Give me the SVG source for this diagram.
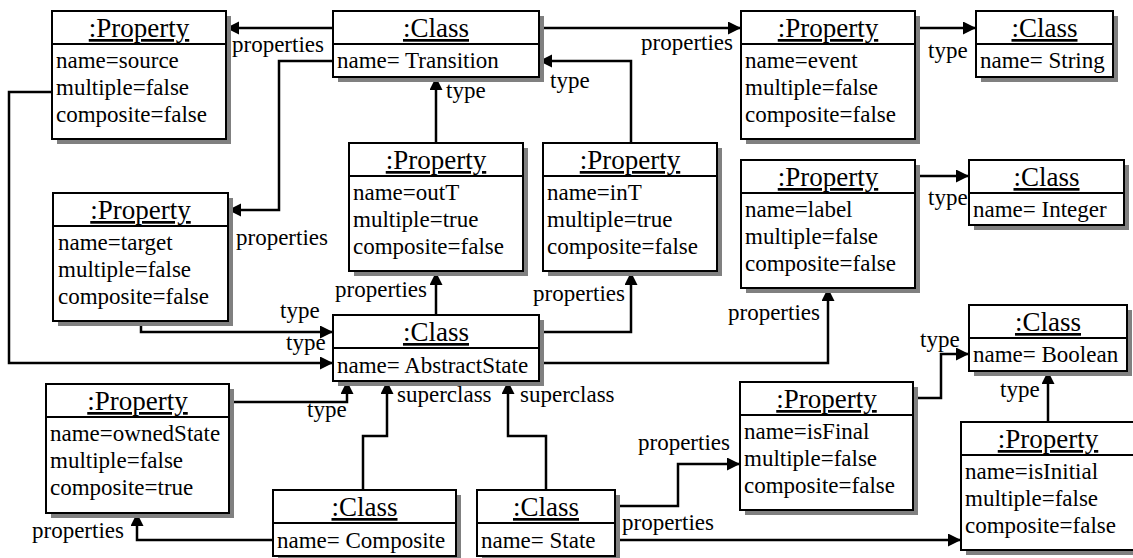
<svg xmlns="http://www.w3.org/2000/svg" width="1133" height="558" viewBox="0 0 1133 558">
<defs>
<marker id="ah" markerUnits="userSpaceOnUse" markerWidth="14" markerHeight="14" refX="13" refY="6.5" orient="auto">
<path d="M0,0 L13,6.5 L0,13 z" fill="#000"/>
</marker>
<style>
text{font-family:'Liberation Serif','Tinos','DejaVu Serif',serif;fill:#000}
.sh{fill:#808080}
.bx{fill:#fff;stroke:#000;stroke-width:2}
.dv{stroke:#000;stroke-width:2}
.t{font-size:27px;text-anchor:middle;text-decoration:underline}
.b{font-size:23px}
.l{font-size:23px}
.e{text-anchor:end}
.c{fill:none;stroke:#000;stroke-width:2.5;marker-end:url(#ah)}
</style>
</defs>
<rect width="1133" height="558" fill="#fff"/>

<g id="connectors" font-family="Liberation Serif, serif">
<polyline class="c" points="333,28 226,28"/>
<polyline class="c" points="333,61 279,61 279,210 228,210"/>
<polyline class="c" points="539,28 741,28"/>
<polyline class="c" points="915,28 976,28"/>
<polyline class="c" points="436,143 436,77"/>
<polyline class="c" points="631,143 631,61 539,61"/>
<polyline class="c" points="52,92 9,92 9,363 333,363"/>
<polyline class="c" points="141,322 141,332 333,332"/>
<polyline class="c" points="436,315 436,272"/>
<polyline class="c" points="539,332 631,332 631,272"/>
<polyline class="c" points="539,363 828,363 828,288"/>
<polyline class="c" points="915,176 969,176"/>
<polyline class="c" points="229,402 347,402 347,381"/>
<polyline class="c" points="363,490 363,436 387,436 387,381"/>
<polyline class="c" points="546,490 546,436 508,436 508,381"/>
<polyline class="c" points="273,540 137,540 137,513"/>
<polyline class="c" points="615,506 678,506 678,464 740,464"/>
<polyline class="c" points="615,540 961,540"/>
<polyline class="c" points="913,398 941,398 941,354 969,354"/>
<polyline class="c" points="1048,422 1048,371"/>
<text class="l" x="232" y="52">properties</text>
<text class="l" x="236" y="245">properties</text>
<text class="l e" x="733" y="50">properties</text>
<text class="l" x="928" y="58">type</text>
<text class="l" x="446" y="98">type</text>
<text class="l" x="550" y="88">type</text>
<text class="l" x="286" y="350">type</text>
<text class="l" x="280" y="318">type</text>
<text class="l e" x="427" y="297">properties</text>
<text class="l" x="533" y="301">properties</text>
<text class="l" x="728" y="320">properties</text>
<text class="l" x="928" y="205">type</text>
<text class="l" x="307" y="417">type</text>
<text class="l" x="397" y="402">superclass</text>
<text class="l" x="520" y="402">superclass</text>
<text class="l" x="32" y="538">properties</text>
<text class="l" x="638" y="450">properties</text>
<text class="l" x="622" y="530">properties</text>
<text class="l" x="920" y="347">type</text>
<text class="l" x="1000" y="397">type</text>
</g>

<g id="p-source">
<rect class="sh" x="57" y="16" width="174" height="128"/>
<rect class="bx" x="52" y="11" width="174" height="128"/>
<line class="dv" x1="52" y1="44" x2="226" y2="44"/>
<text class="t" x="139" y="37">:Property</text>
<text class="b" x="56" y="68">name=source</text>
<text class="b" x="56" y="95">multiple=false</text>
<text class="b" x="56" y="122">composite=false</text>
</g>

<g id="c-transition">
<rect class="sh" x="338" y="16" width="206" height="66"/>
<rect class="bx" x="333" y="11" width="206" height="66"/>
<line class="dv" x1="333" y1="44" x2="539" y2="44"/>
<text class="t" x="436" y="37">:Class</text>
<text class="b" x="337" y="68">name= Transition</text>
</g>

<g id="p-event">
<rect class="sh" x="746" y="16" width="174" height="128"/>
<rect class="bx" x="741" y="11" width="174" height="128"/>
<line class="dv" x1="741" y1="44" x2="915" y2="44"/>
<text class="t" x="828" y="37">:Property</text>
<text class="b" x="745" y="68">name=event</text>
<text class="b" x="745" y="95">multiple=false</text>
<text class="b" x="745" y="122">composite=false</text>
</g>

<g id="c-string">
<rect class="sh" x="981" y="16" width="137" height="66"/>
<rect class="bx" x="976" y="11" width="137" height="66"/>
<line class="dv" x1="976" y1="44" x2="1113" y2="44"/>
<text class="t" x="1044.5" y="37">:Class</text>
<text class="b" x="980" y="68">name= String</text>
</g>

<g id="p-target">
<rect class="sh" x="58" y="198" width="175" height="128"/>
<rect class="bx" x="53" y="193" width="175" height="128"/>
<line class="dv" x1="53" y1="226" x2="228" y2="226"/>
<text class="t" x="140.5" y="219">:Property</text>
<text class="b" x="58" y="250">name=target</text>
<text class="b" x="58" y="277">multiple=false</text>
<text class="b" x="58" y="304">composite=false</text>
</g>

<g id="p-outT">
<rect class="sh" x="354" y="148" width="174" height="128"/>
<rect class="bx" x="349" y="143" width="174" height="128"/>
<line class="dv" x1="349" y1="176" x2="523" y2="176"/>
<text class="t" x="436" y="169">:Property</text>
<text class="b" x="353" y="200">name=outT</text>
<text class="b" x="353" y="227">multiple=true</text>
<text class="b" x="353" y="254">composite=false</text>
</g>

<g id="p-inT">
<rect class="sh" x="548" y="148" width="174" height="128"/>
<rect class="bx" x="543" y="143" width="174" height="128"/>
<line class="dv" x1="543" y1="176" x2="717" y2="176"/>
<text class="t" x="630" y="169">:Property</text>
<text class="b" x="547" y="200">name=inT</text>
<text class="b" x="547" y="227">multiple=true</text>
<text class="b" x="547" y="254">composite=false</text>
</g>

<g id="p-label">
<rect class="sh" x="746" y="165" width="174" height="128"/>
<rect class="bx" x="741" y="160" width="174" height="128"/>
<line class="dv" x1="741" y1="193" x2="915" y2="193"/>
<text class="t" x="828" y="186">:Property</text>
<text class="b" x="745" y="217">name=label</text>
<text class="b" x="745" y="244">multiple=false</text>
<text class="b" x="745" y="271">composite=false</text>
</g>

<g id="c-integer">
<rect class="sh" x="974" y="165" width="155" height="65"/>
<rect class="bx" x="969" y="160" width="155" height="65"/>
<line class="dv" x1="969" y1="193" x2="1124" y2="193"/>
<text class="t" x="1046.5" y="186">:Class</text>
<text class="b" x="973" y="217">name= Integer</text>
</g>

<g id="c-abstractstate">
<rect class="sh" x="338" y="320" width="206" height="66"/>
<rect class="bx" x="333" y="315" width="206" height="66"/>
<line class="dv" x1="333" y1="348" x2="539" y2="348"/>
<text class="t" x="436" y="341">:Class</text>
<text class="b" x="337" y="373">name= AbstractState</text>
</g>

<g id="c-boolean">
<rect class="sh" x="974" y="310" width="158" height="66"/>
<rect class="bx" x="969" y="305" width="158" height="66"/>
<line class="dv" x1="969" y1="338" x2="1127" y2="338"/>
<text class="t" x="1048" y="331">:Class</text>
<text class="b" x="973" y="362">name= Boolean</text>
</g>

<g id="p-ownedState">
<rect class="sh" x="51" y="389" width="183" height="129"/>
<rect class="bx" x="46" y="384" width="183" height="129"/>
<line class="dv" x1="46" y1="417" x2="229" y2="417"/>
<text class="t" x="137.5" y="410">:Property</text>
<text class="b" x="50" y="441">name=ownedState</text>
<text class="b" x="50" y="468">multiple=false</text>
<text class="b" x="50" y="495">composite=true</text>
</g>

<g id="p-isFinal">
<rect class="sh" x="745" y="387" width="173" height="128"/>
<rect class="bx" x="740" y="382" width="173" height="128"/>
<line class="dv" x1="740" y1="415" x2="913" y2="415"/>
<text class="t" x="826.5" y="408">:Property</text>
<text class="b" x="744" y="439">name=isFinal</text>
<text class="b" x="744" y="466">multiple=false</text>
<text class="b" x="744" y="493">composite=false</text>
</g>

<g id="c-composite">
<rect class="sh" x="278" y="495" width="183" height="66"/>
<rect class="bx" x="273" y="490" width="183" height="66"/>
<line class="dv" x1="273" y1="523" x2="456" y2="523"/>
<text class="t" x="364.5" y="516">:Class</text>
<text class="b" x="277" y="548">name= Composite</text>
</g>

<g id="c-state">
<rect class="sh" x="482" y="495" width="138" height="66"/>
<rect class="bx" x="477" y="490" width="138" height="66"/>
<line class="dv" x1="477" y1="523" x2="615" y2="523"/>
<text class="t" x="546" y="516">:Class</text>
<text class="b" x="481" y="548">name= State</text>
</g>

<g id="p-isInitial">
<rect class="sh" x="966" y="427" width="174" height="128"/>
<rect class="bx" x="961" y="422" width="174" height="128"/>
<line class="dv" x1="961" y1="455" x2="1135" y2="455"/>
<text class="t" x="1048" y="448">:Property</text>
<text class="b" x="965" y="479">name=isInitial</text>
<text class="b" x="965" y="506">multiple=false</text>
<text class="b" x="965" y="533">composite=false</text>
</g>
</svg>
